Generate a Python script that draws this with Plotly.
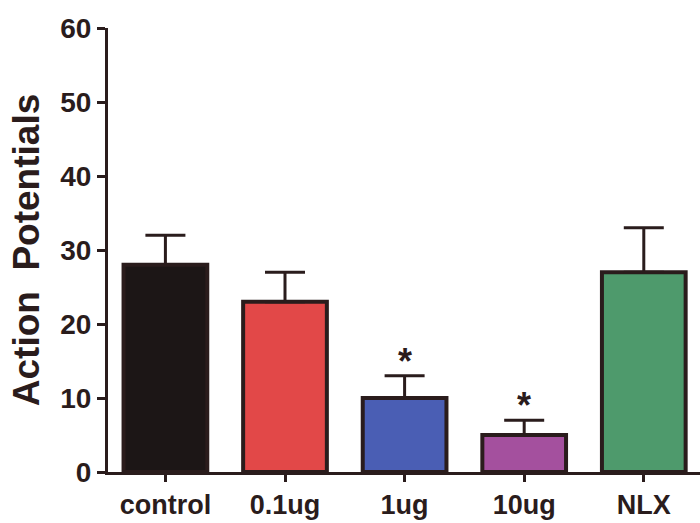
import plotly.graph_objects as go

categories = ["control", "0.1ug", "1ug", "10ug", "NLX"]
values = [28, 23, 10, 5, 27]
errors = [4, 4, 3, 2, 6]
colors = ["#1c1616", "#e24848", "#4a5eb4", "#a4509e", "#4e9a6c"]
significant = [False, False, True, True, False]

ink = "#2a1c1c"
idx = list(range(len(categories)))

fig = go.Figure()
fig.add_trace(go.Bar(
    x=idx, y=values, width=0.7,
    marker=dict(color=colors, line=dict(color=ink, width=4)),
    error_y=dict(type="data", symmetric=False, array=errors,
                 arrayminus=[0] * len(values), color=ink, thickness=3, width=20),
    showlegend=False,
))

for i, (v, e, s) in enumerate(zip(values, errors, significant)):
    if s:
        fig.add_annotation(x=i, y=v + e, text="<b>*</b>", showarrow=False,
                           yanchor="bottom", yshift=-8,
                           font=dict(size=36, color=ink, family="Liberation Sans, Arial"))

fig.update_layout(
    width=700, height=523,
    margin=dict(l=108, r=0, t=28, b=51),
    paper_bgcolor="white", plot_bgcolor="white",
    font=dict(family="Liberation Sans, Arial", color=ink),
    bargap=0.3,
)
fig.update_xaxes(
    range=[-0.48, 4.47], tickmode="array", tickvals=idx,
    ticktext=["<b>%s</b>" % c for c in categories],
    showline=True, linecolor=ink, linewidth=3,
    ticks="outside", ticklen=7, tickwidth=3, tickcolor=ink,
    tickfont=dict(size=27, color=ink), showgrid=False, zeroline=False,
    automargin=False,
)
fig.update_yaxes(
    range=[0, 60], tickvals=[0, 10, 20, 30, 40, 50, 60],
    ticktext=["<b>%d</b>" % t for t in [0, 10, 20, 30, 40, 50, 60]],
    showline=True, linecolor=ink, linewidth=3,
    ticks="outside", ticklen=8, tickwidth=3, tickcolor=ink,
    tickfont=dict(size=28, color=ink), showgrid=False, zeroline=False,
    title=dict(text="<b>Action  Potentials</b>", font=dict(size=37, color=ink), standoff=10),
    automargin=False,
)

fig.write_html("out.html")
